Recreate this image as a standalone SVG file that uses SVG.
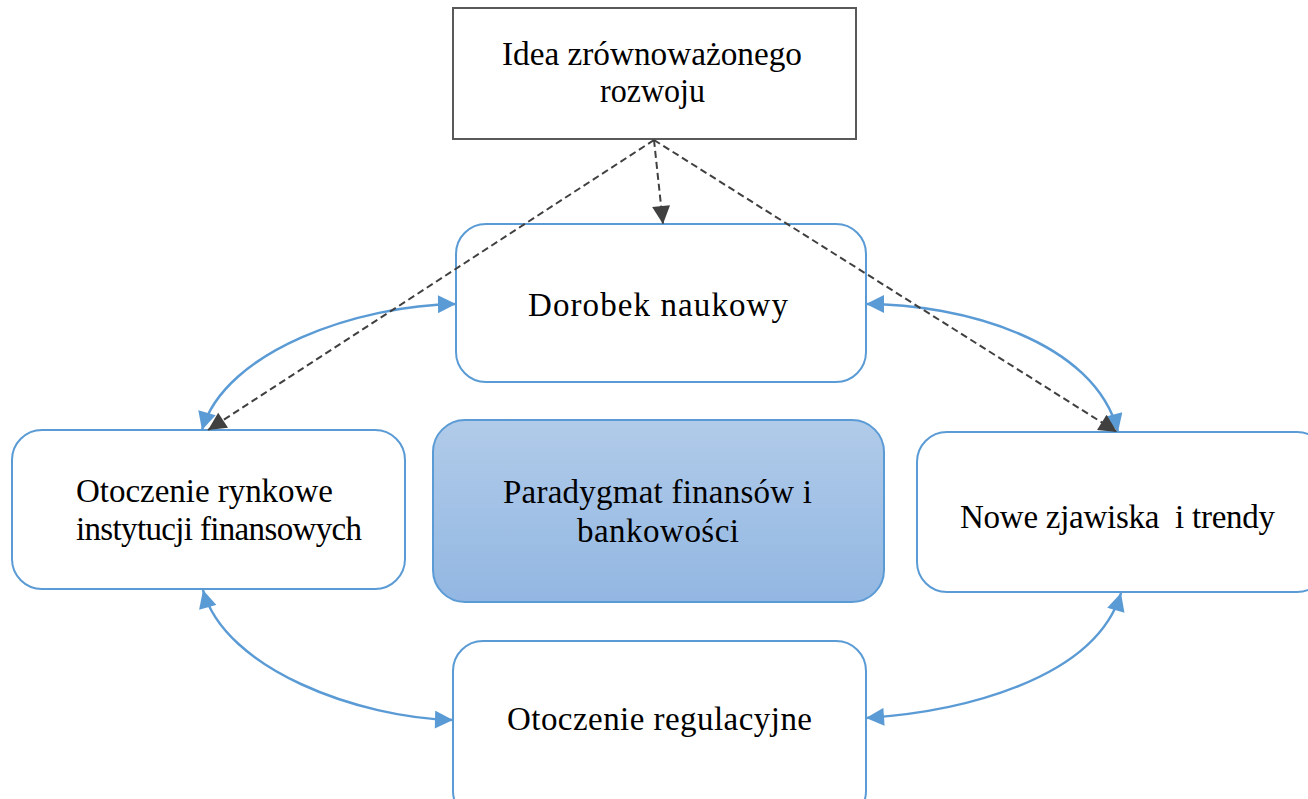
<svg xmlns="http://www.w3.org/2000/svg" width="1308" height="799" viewBox="0 0 1308 799">
<defs>
<linearGradient id="g" x1="0" y1="0" x2="0" y2="1">
<stop offset="0" stop-color="#b1cbe9"/>
<stop offset="1" stop-color="#92b7e2"/>
</linearGradient>
<marker id="ab" viewBox="0 0 10 10" refX="10" refY="5" markerWidth="19" markerHeight="18" markerUnits="userSpaceOnUse" orient="auto-start-reverse">
<path d="M0,0 L10,5 L0,10 z" fill="#5b9bd5"/>
</marker>
<marker id="ad" viewBox="0 0 10 10" refX="10" refY="5" markerWidth="19" markerHeight="18" markerUnits="userSpaceOnUse" orient="auto">
<path d="M0,0 L10,5 L0,10 z" fill="#404040"/>
</marker>
<style>
.n{fill:#fff;stroke:#5b9bd5;stroke-width:2}
.t{font-family:"Liberation Serif","Times New Roman",serif;font-size:33px;fill:#000}
.b{fill:none;stroke:#5b9bd5;stroke-width:2.5}
.d{fill:none;stroke:#404040;stroke-width:2;stroke-dasharray:7,4}
</style>
</defs>
<rect width="1308" height="799" fill="#fff"/>
<g id="idea">
<rect x="453" y="8" width="403" height="131" fill="#fff" stroke="#595959" stroke-width="2"/>
<text class="t" x="502" y="65" textLength="300" lengthAdjust="spacingAndGlyphs">Idea zrównoważonego</text>
<text class="t" x="600" y="102" textLength="105" lengthAdjust="spacingAndGlyphs">rozwoju</text>
</g>
<g id="dorobek">
<rect class="n" x="456" y="224" width="410" height="158" rx="30"/>
<text class="t" x="528" y="316" textLength="260" lengthAdjust="spacing">Dorobek naukowy</text>
</g>
<g id="rynkowe">
<rect class="n" x="12" y="430" width="393" height="159" rx="30"/>
<text class="t" x="76" y="502" textLength="257" lengthAdjust="spacing">Otoczenie rynkowe</text>
<text class="t" x="76" y="540" textLength="286" lengthAdjust="spacing">instytucji finansowych</text>
</g>
<g id="paradygmat">
<rect x="433" y="420" width="451" height="182" rx="32" fill="url(#g)" stroke="#5b9bd5" stroke-width="2"/>
<text class="t" x="503" y="503" textLength="309" lengthAdjust="spacing">Paradygmat finansów i</text>
<text class="t" x="577" y="542" textLength="162" lengthAdjust="spacing">bankowości</text>
</g>
<g id="nowe">
<rect class="n" x="917" y="432" width="410" height="160" rx="30"/>
<text class="t" x="960" y="528" textLength="315" lengthAdjust="spacing" xml:space="preserve">Nowe zjawiska  i trendy</text>
</g>
<g id="regulacyjne">
<rect class="n" x="453" y="641" width="413" height="180" rx="30"/>
<text class="t" x="507" y="730" textLength="305" lengthAdjust="spacing">Otoczenie regulacyjne</text>
</g>
<g id="connectors">
<path class="b" d="M202,430 C225,350 360,305 456,304" marker-start="url(#ab)" marker-end="url(#ab)"/>
<path class="b" d="M866,304 C960,304 1095,340 1118,432" marker-start="url(#ab)" marker-end="url(#ab)"/>
<path class="b" d="M203,590 C225,670 360,718 453,720" marker-start="url(#ab)" marker-end="url(#ab)"/>
<path class="b" d="M866,718 C960,712 1095,680 1121,593" marker-start="url(#ab)" marker-end="url(#ab)"/>
<path class="d" d="M654,140 L663,224" marker-end="url(#ad)"/>
<path class="d" d="M654,140 L208,430" marker-end="url(#ad)"/>
<path class="d" d="M654,140 L1117,432" marker-end="url(#ad)"/>
</g>
</svg>
